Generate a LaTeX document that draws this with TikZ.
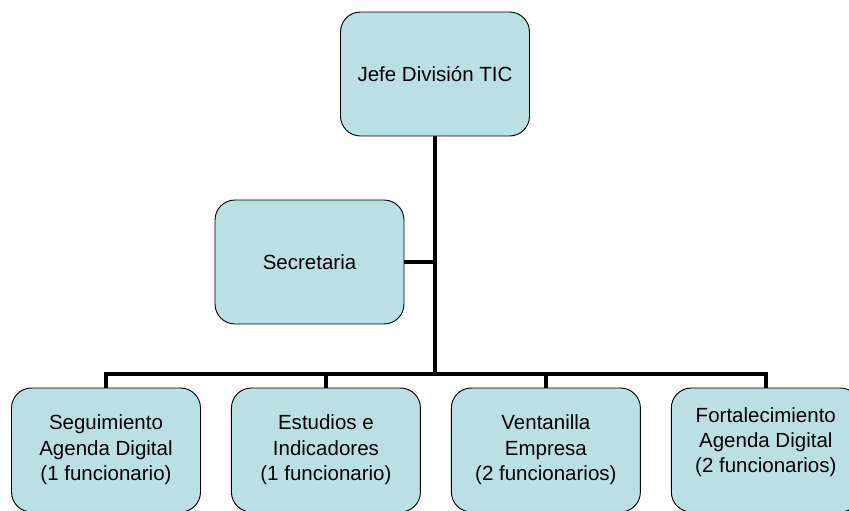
\documentclass[tikz,border=0pt]{standalone}
\usepackage{fontspec}
\setmainfont{Liberation Sans}
\usetikzlibrary{positioning}
\usetikzlibrary{calc}
\definecolor{cajaazul}{RGB}{187,224,227}
\tikzset{caja/.style={draw=black, line width=0.8pt, fill=cajaazul, rounded corners=0.6cm,
    minimum width=5.67cm, minimum height=3.72cm, align=center,
    font=\fontsize{17.5}{21.7}\selectfont},
  linea/.style={black, line width=3.4pt}}

\begin{document}
\begin{tikzpicture}

\clip (0,0) rectangle (25.47,-15.3);

\node[caja] (jefe) at (13.05,-2.22) {Jefe División TIC};
\node[caja] (secre) at (9.285,-7.86) {Secretaria};

\node[caja] (seg) at (3.18,-13.5) {Seguimiento\\Agenda Digital\\(1 funcionario)};
\node[caja, right=0.9cm of seg] (est) {Estudios e\\Indicadores\\(1 funcionario)};
\node[caja, right=0.9cm of est] (vent) {Ventanilla\\Empresa\\(2 funcionarios)};
\node[caja, right=0.9cm of vent] (fort) {Fortalecimiento\\Agenda Digital\\(2 funcionarios)\\[-4.7pt]\mbox{}};

\coordinate (bus) at ($(jefe.south)+(0,-7.14)$);

\draw[linea] (jefe.south)--(bus);
\draw[linea] (secre.east)--(secre.east -| jefe.south);
\draw[linea] (seg.north) |- (fort.north |- bus) -- (fort.north);
\draw[linea] (est.north)--(est.north |- bus);
\draw[linea] (vent.north)--(vent.north |- bus);

\end{tikzpicture}
\end{document}
